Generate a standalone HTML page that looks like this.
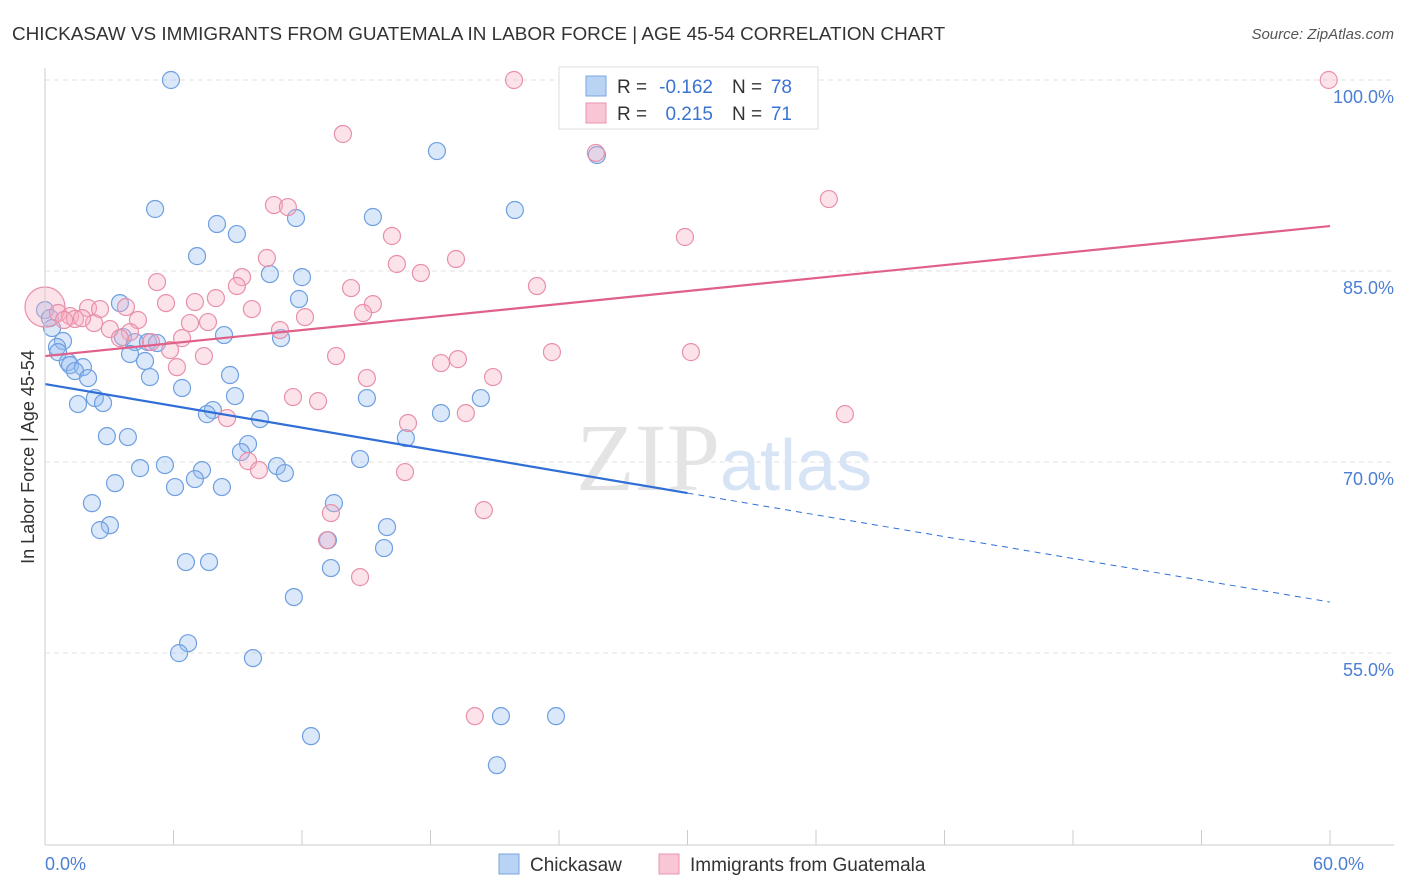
<!DOCTYPE html>
<html><head><meta charset="utf-8">
<style>
body{margin:0;background:#fff;font-family:"Liberation Sans",sans-serif;}
#wrap{position:relative;width:1406px;height:892px;overflow:hidden;}
</style></head>
<body>
<div id="wrap">
<svg id="svg" width="1406" height="892" xmlns="http://www.w3.org/2000/svg">
<text x="12" y="40" font-size="18.9" fill="#333">CHICKASAW VS IMMIGRANTS FROM GUATEMALA IN LABOR FORCE | AGE 45-54 CORRELATION CHART</text>
<text x="1394" y="39" font-size="15" fill="#555" font-style="italic" text-anchor="end">Source: ZipAtlas.com</text>
<text x="34" y="457" font-size="18" fill="#333" text-anchor="middle" transform="rotate(-90 34 457)">In Labor Force | Age 45-54</text>
<g id="grid"></g>
<text x="720" y="490" font-size="96" fill="#e4e4e4" text-anchor="end" font-family="Liberation Serif">ZIP</text>
<text x="720" y="490" font-size="72" fill="#d6e4f5">atlas</text>
<g id="points"></g>
<g id="lines"></g>
<g id="ticks"></g>
<g>
<rect x="559" y="67" width="259" height="62" fill="#fff" stroke="#ddd"/>
<rect x="586" y="76" width="20" height="20" fill="#b9d3f5" stroke="#7aa5e0"/>
<rect x="586" y="103" width="20" height="20" fill="#f8c6d4" stroke="#e995ad"/>
<text x="617" y="93" font-size="19" fill="#333">R =</text>
<text x="713" y="93" font-size="19" fill="#3b73d1" text-anchor="end">-0.162</text>
<text x="732" y="93" font-size="19" fill="#333">N =</text>
<text x="792" y="93" font-size="19" fill="#3b73d1" text-anchor="end">78</text>
<text x="617" y="120" font-size="19" fill="#333">R =</text>
<text x="713" y="120" font-size="19" fill="#3b73d1" text-anchor="end">0.215</text>
<text x="732" y="120" font-size="19" fill="#333">N =</text>
<text x="792" y="120" font-size="19" fill="#3b73d1" text-anchor="end">71</text>
</g>
<g>
<rect x="499" y="854" width="20" height="20" fill="#b9d3f5" stroke="#7aa5e0"/>
<text x="530" y="871" font-size="19" fill="#333">Chickasaw</text>
<rect x="659" y="854" width="20" height="20" fill="#f8c6d4" stroke="#e995ad"/>
<text x="690" y="871" font-size="19" fill="#333">Immigrants from Guatemala</text>
</g>
</svg>
</div>
<script>
const yTicks=[100,85,70,55];
const yTickLabels=["100.0%","85.0%","70.0%","55.0%"];
const xTickVals=[0,6,12,18,24,30,36,42,48,54,60];
const xEndLabels=["0.0%","60.0%"];
const blueX=[5.88,5.14,18.30,25.77,21.94,15.31,11.72,8.03,8.96,7.10,10.50,12.00,11.86,3.50,0,0.23,0.33,8.36,11.02,3.64,4.20,4.81,5.23,0.84,0.56,0.61,3.97,4.67,1.07,1.17,1.77,1.40,2.01,4.90,8.64,6.40,15.03,20.35,2.33,2.71,1.54,8.87,7.84,7.56,18.49,10.04,2.89,3.87,16.85,9.48,9.15,14.71,5.60,4.44,10.83,7.33,11.20,7.00,3.27,6.07,8.26,13.49,2.19,3.03,2.57,13.21,15.97,15.83,6.58,7.66,13.35,11.62,6.68,6.26,9.71,12.42,21.29,23.86,21.10];
const blueY=[100,89.87,94.42,94.11,89.79,89.24,89.16,88.69,87.90,86.17,84.76,84.52,82.80,82.48,81.93,81.30,80.52,79.97,79.73,79.81,79.42,79.42,79.34,79.50,79.03,78.63,78.48,77.93,77.85,77.61,77.45,77.14,76.59,76.67,76.83,75.81,75.02,75.02,75.02,74.63,74.55,75.18,74.08,73.76,73.84,73.37,72.03,71.96,71.88,71.41,70.78,70.23,69.76,69.52,69.68,69.36,69.13,68.66,68.34,68.03,68.03,66.77,66.77,65.04,64.65,63.86,64.89,63.24,62.14,62.14,61.67,59.39,55.77,54.99,54.60,48.47,50.04,50.04,46.19];
const pinkX=[21.90,33.80,59.94,13.91,25.72,36.60,10.69,11.34,16.20,29.88,10.36,16.43,19.19,17.55,9.20,5.23,8.96,22.97,14.29,7.98,7.00,5.65,15.31,0,2.01,2.57,3.78,0.61,1.17,1.40,0.89,2.29,1.73,9.66,12.14,14.85,4.34,6.77,7.61,3.03,10.97,3.97,3.50,6.40,4.95,5.84,7.42,13.59,19.28,23.67,30.16,18.49,6.16,15.03,20.92,11.58,12.75,19.65,16.95,37.35,8.50,9.48,9.99,16.81,20.49,13.35,13.17,14.71,20.07];
const pinkY=[100,100,100,95.76,94.27,90.65,90.18,90.02,87.75,87.67,86.02,85.55,85.94,84.84,84.52,84.13,83.82,83.82,83.66,82.87,82.56,82.48,82.40,82.17,82.09,82.01,82.17,81.70,81.46,81.23,81.15,80.91,81.30,82.01,81.38,81.70,81.15,80.91,80.99,80.44,80.36,80.20,79.73,79.73,79.42,78.79,78.32,78.32,78.08,78.63,78.63,77.77,77.45,76.59,76.67,75.10,74.78,73.84,73.06,73.76,73.45,70.07,69.36,69.21,66.22,65.99,63.86,60.96,50.04];
const blueTrend=[76.12,59.0];
const pinkTrend=[78.32,88.53];
const blueSolidEnd=30;

const NS="http://www.w3.org/2000/svg";
function sx(v){return 45+v*(1285/60);}
function sy(v){return 80+(100-v)*(191/15);}
function mk(tag,attrs,parent){const e=document.createElementNS(NS,tag);for(const k in attrs)e.setAttribute(k,attrs[k]);document.getElementById(parent).appendChild(e);return e;}

yTicks.forEach((t,i)=>{
  const l=mk('line',{x1:45,x2:1394,y1:sy(t),y2:sy(t),stroke:'#e2e2e2','stroke-dasharray':'5,4'},'grid');
  
  
  const tx=mk('text',{x:1394,y:sy(t)+23,'font-size':18,fill:'#4a7fd4','text-anchor':'end'},'ticks');
  tx.textContent=yTickLabels[i];
  
  
});
const ax=mk('line',{x1:45,x2:45,y1:68,y2:845,stroke:'#ccc'},'ticks');


const bx=mk('line',{x1:45,x2:1394,y1:845,y2:845,stroke:'#ccc'},'ticks');


xTickVals.forEach(v=>{
  const l=mk('line',{x1:sx(v),x2:sx(v),y1:830,y2:845,stroke:'#ccc'},'ticks');
  
  
});
[[0,'start'],[60,'end']].forEach((p,i)=>{
  const t=mk('text',{x:sx(p[0])+(i?34:0),y:870,'font-size':18,fill:'#4a7fd4','text-anchor':p[1]},'ticks');
  t.textContent=xEndLabels[i];
  
  
});

blueX.forEach((x,i)=>{
  const c=mk('circle',{cx:sx(x),cy:sy(blueY[i]),r:8.5,fill:'rgba(150,190,240,0.35)',stroke:'#6f9fe0','stroke-width':1.2},'points');
  
  
});
pinkX.forEach((x,i)=>{
  const c=mk('circle',{cx:sx(x),cy:sy(pinkY[i]),r:(x===0?20:8.5),fill:'rgba(245,175,195,0.35)',stroke:'#e890aa','stroke-width':1.2},'points');
  
  
});
function trendY(tr,x){return tr[0]+(tr[1]-tr[0])*x/60;}
const bl=mk('line',{x1:sx(0),y1:sy(trendY(blueTrend,0)),x2:sx(blueSolidEnd),y2:sy(trendY(blueTrend,blueSolidEnd)),stroke:'#2f6fd6','stroke-width':2.2},'lines');


const bd=mk('line',{x1:sx(blueSolidEnd),y1:sy(trendY(blueTrend,blueSolidEnd)),x2:sx(60),y2:sy(trendY(blueTrend,60)),stroke:'#2f6fd6','stroke-width':1,'stroke-dasharray':'6,5'},'lines');


const pl=mk('line',{x1:sx(0),y1:sy(trendY(pinkTrend,0)),x2:sx(60),y2:sy(trendY(pinkTrend,60)),stroke:'#e0608a','stroke-width':2.2},'lines');


</script>
</body></html>
